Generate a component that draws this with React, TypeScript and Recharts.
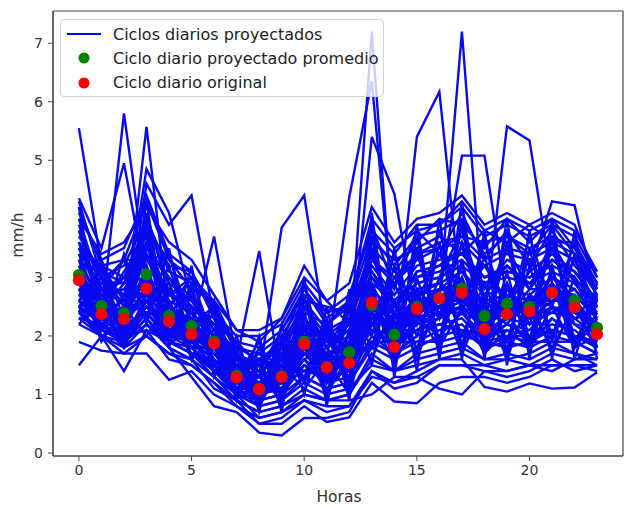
import React from 'react';
import { LineChart, Line, XAxis, YAxis, CartesianGrid } from 'recharts';

// hours of the day
const HOURS = [0, 1, 2, 3, 4, 5, 6, 7, 8, 9, 10, 11, 12, 13, 14, 15, 16, 17, 18, 19, 20, 21, 22, 23];

// projected daily cycles (mm/h)
const PROJ_01 = [5.55, 3.2, 2.6, 3.0, 2.4, 2.2, 1.9, 1.3, 1.1, 1.4, 1.9, 1.5, 1.6, 2.5, 2.0, 2.5, 2.7, 2.8, 2.3, 2.5, 2.4, 2.8, 2.6, 2.1];
const PROJ_02 = [3.0, 2.3, 5.8, 3.0, 2.5, 2.1, 1.8, 1.2, 1.0, 1.2, 1.8, 1.4, 1.7, 2.6, 1.9, 2.4, 2.6, 2.9, 2.2, 2.6, 2.5, 2.7, 2.4, 2.2];
const PROJ_03 = [2.8, 2.6, 2.2, 5.57, 2.3, 2.0, 1.9, 1.4, 1.2, 1.3, 2.0, 1.6, 1.5, 2.4, 2.1, 2.6, 2.5, 2.7, 2.0, 2.3, 2.6, 2.9, 2.5, 2.0];
const PROJ_04 = [4.35, 3.5, 4.95, 2.9, 2.4, 2.3, 1.7, 1.3, 0.9, 1.4, 2.1, 1.3, 1.9, 2.8, 1.8, 2.7, 2.9, 2.6, 2.4, 2.4, 2.3, 2.6, 2.8, 2.3];
const PROJ_05 = [3.3, 2.1, 2.4, 4.85, 4.1, 2.6, 2.0, 1.1, 1.3, 1.1, 1.7, 1.7, 1.4, 2.2, 2.3, 2.3, 2.8, 3.1, 2.5, 2.2, 2.7, 2.5, 2.3, 2.4];
const PROJ_06 = [2.6, 2.4, 2.0, 4.6, 3.9, 4.4, 2.3, 1.5, 1.0, 1.5, 2.2, 1.2, 1.8, 2.7, 1.7, 2.8, 2.4, 2.5, 2.1, 2.8, 2.2, 2.4, 2.7, 1.9];
const PROJ_07 = [2.5, 2.7, 2.3, 3.4, 2.2, 2.1, 3.7, 1.6, 3.45, 1.2, 1.6, 1.8, 1.3, 2.3, 2.5, 2.2, 2.3, 2.9, 2.6, 2.3, 2.8, 2.8, 2.3, 2.5];
const PROJ_08 = [3.1, 2.2, 2.5, 2.8, 2.6, 1.9, 1.6, 1.2, 1.3, 3.85, 4.4, 1.9, 1.6, 2.9, 2.1, 2.4, 2.7, 2.6, 2.3, 2.7, 2.5, 3.0, 2.6, 2.2];
const PROJ_09 = [2.9, 2.5, 2.3, 3.1, 2.3, 2.2, 1.9, 1.4, 1.0, 1.3, 1.9, 1.4, 1.7, 7.2, 2.0, 2.6, 2.6, 2.8, 2.2, 2.5, 2.4, 2.7, 2.5, 2.0];
const PROJ_10 = [3.0, 2.3, 2.5, 2.9, 2.4, 2.0, 1.8, 1.3, 1.1, 1.2, 1.8, 1.6, 4.37, 6.35, 2.2, 2.5, 2.8, 2.7, 2.4, 2.4, 2.6, 2.6, 2.6, 2.1];
const PROJ_11 = [2.7, 2.6, 2.2, 3.2, 2.1, 2.3, 2.0, 1.2, 1.2, 1.4, 2.0, 1.5, 1.6, 5.4, 4.43, 2.3, 2.5, 3.0, 2.1, 2.6, 2.3, 2.8, 2.4, 2.2];
const PROJ_12 = [3.2, 2.4, 2.6, 3.0, 2.5, 2.1, 1.7, 1.4, 1.0, 1.3, 1.9, 1.3, 1.8, 2.6, 1.9, 5.4, 6.17, 2.5, 2.3, 2.5, 2.5, 2.7, 2.7, 2.3];
const PROJ_13 = [2.9, 2.5, 2.2, 2.7, 2.3, 2.2, 1.8, 1.3, 1.1, 1.3, 1.8, 1.5, 1.5, 2.5, 2.0, 2.5, 2.6, 7.2, 2.2, 2.4, 2.4, 2.8, 2.5, 2.0];
const PROJ_14 = [3.0, 2.6, 2.4, 3.0, 2.2, 2.0, 1.9, 1.4, 1.2, 1.4, 2.0, 1.4, 1.7, 2.7, 2.2, 2.6, 2.7, 5.08, 5.08, 2.6, 2.3, 2.6, 2.6, 2.1];
const PROJ_15 = [2.8, 2.3, 2.3, 2.8, 2.4, 2.1, 1.8, 1.3, 1.0, 1.2, 1.9, 1.6, 1.6, 2.4, 2.1, 2.4, 2.5, 2.8, 2.3, 5.58, 5.34, 2.9, 2.5, 2.2];
const PROJ_16 = [2.9, 2.5, 2.4, 3.0, 2.5, 2.2, 1.9, 1.3, 1.1, 1.3, 1.8, 1.5, 1.7, 2.6, 2.0, 2.5, 2.7, 2.7, 2.4, 2.5, 3.1, 4.3, 4.23, 2.6];
const PROJ_17 = [1.5, 2.0, 1.4, 2.1, 1.6, 1.5, 1.2, 0.9, 0.7, 0.8, 1.0, 0.9, 1.0, 1.6, 1.4, 1.6, 1.7, 1.8, 1.6, 1.7, 1.6, 1.8, 1.7, 1.5];
const PROJ_18 = [1.9, 1.75, 1.7, 1.7, 1.25, 1.4, 1.0, 0.8, 0.5, 0.6, 0.9, 0.8, 0.8, 1.3, 1.2, 1.4, 1.6, 1.7, 1.5, 1.6, 1.5, 1.7, 1.6, 1.6];
const PROJ_19 = [2.4, 2.1, 1.9, 2.3, 1.8, 1.3, 0.8, 0.7, 0.35, 0.3, 0.6, 0.6, 0.7, 1.4, 1.1, 1.2, 1.5, 1.5, 1.4, 1.3, 1.4, 1.6, 1.4, 1.5];
const PROJ_20 = [2.2, 2.0, 1.8, 2.0, 1.7, 1.6, 1.1, 0.9, 0.5, 0.5, 0.8, 0.53, 0.61, 1.2, 0.88, 0.85, 1.2, 1.3, 1.3, 1.2, 1.3, 1.5, 1.5, 1.4];
const PROJ_21 = [2.3, 2.2, 1.9, 2.2, 1.9, 1.7, 1.3, 1.0, 0.6, 0.7, 1.0, 0.9, 0.9, 1.0, 1.3, 1.3, 1.1, 1.0, 1.4, 1.4, 1.5, 1.4, 1.6, 1.7];
const PROJ_22 = [2.5, 2.3, 2.0, 2.4, 1.9, 1.8, 1.4, 1.1, 0.8, 0.9, 1.2, 1.0, 1.1, 1.5, 1.4, 1.5, 1.6, 1.6, 1.13, 1.05, 1.19, 1.1, 1.12, 1.38];
const PROJ_23 = [4.1, 3.3, 3.5, 4.4, 3.4, 3.1, 2.4, 2.0, 2.0, 2.2, 2.9, 2.4, 2.7, 3.8, 3.4, 3.9, 3.9, 4.2, 3.7, 3.9, 3.7, 3.9, 3.7, 3.0];
const PROJ_24 = [3.8, 3.0, 3.2, 4.0, 3.1, 2.9, 2.5, 1.8, 1.7, 2.0, 2.6, 2.5, 2.4, 3.5, 3.1, 3.6, 4.0, 3.9, 3.5, 4.0, 3.6, 4.0, 3.5, 2.8];
const PROJ_25 = [3.5, 2.8, 3.0, 3.6, 2.9, 2.6, 2.2, 1.9, 1.5, 1.8, 2.4, 2.2, 2.5, 3.3, 2.9, 3.3, 3.5, 3.6, 3.2, 3.4, 3.3, 3.5, 3.3, 2.7];
const PROJ_26 = [3.3, 2.9, 2.7, 3.4, 2.7, 2.5, 2.1, 1.6, 1.4, 1.7, 2.2, 1.9, 2.1, 3.0, 2.6, 3.0, 3.1, 3.3, 2.9, 3.1, 3.0, 3.2, 3.0, 2.5];
const PROJ_27 = [2.6, 2.2, 2.0, 2.5, 2.0, 1.8, 1.5, 1.1, 0.9, 1.0, 1.5, 1.2, 1.3, 2.0, 1.7, 2.0, 2.2, 2.3, 1.9, 2.0, 2.0, 2.2, 2.1, 1.8];
const PROJ_28 = [2.4, 2.0, 1.9, 2.3, 1.9, 1.7, 1.4, 1.0, 0.8, 0.9, 1.3, 1.1, 1.2, 1.8, 1.6, 1.8, 2.0, 2.1, 1.8, 1.9, 1.8, 2.0, 1.9, 1.7];
const PROJ_29 = [3.6, 3.1, 2.9, 3.8, 3.3, 2.8, 2.6, 2.1, 1.9, 2.3, 3.0, 2.6, 2.2, 3.6, 3.3, 3.5, 3.7, 3.4, 3.8, 3.6, 3.9, 3.6, 3.6, 2.9];
const PROJ_30 = [2.7, 2.4, 2.6, 2.6, 2.6, 2.4, 2.0, 1.5, 1.6, 1.6, 2.1, 1.8, 2.0, 2.8, 2.4, 2.8, 2.9, 3.1, 2.7, 2.8, 2.7, 3.0, 2.8, 2.3];
const PROJ_31 = [4.2, 2.1, 3.4, 2.2, 3.5, 1.6, 2.6, 0.9, 2.0, 0.7, 3.0, 0.8, 2.8, 1.5, 3.5, 1.4, 4.0, 1.6, 3.8, 1.5, 3.8, 1.6, 3.8, 1.6];
const PROJ_32 = [2.4, 3.3, 1.8, 4.3, 1.8, 3.2, 1.3, 2.0, 0.7, 2.2, 1.0, 2.5, 0.9, 4.1, 1.3, 3.9, 1.6, 4.3, 1.6, 4.0, 1.6, 4.0, 1.6, 2.9];
const PROJ_33 = [3.9, 2.8, 2.1, 3.9, 2.0, 2.9, 1.5, 1.8, 0.8, 1.9, 1.2, 2.2, 1.1, 3.7, 1.6, 3.5, 1.9, 3.9, 1.8, 3.6, 1.9, 3.7, 1.9, 2.6];
const PROJ_34 = [2.6, 2.9, 3.3, 2.3, 3.2, 1.9, 2.4, 1.0, 1.8, 0.9, 2.7, 1.0, 2.5, 1.8, 3.2, 1.7, 3.6, 1.8, 3.4, 1.7, 3.5, 1.9, 3.4, 1.8];
const PROJ_35 = [3.7, 3.1, 2.5, 4.1, 2.7, 3.0, 2.5, 1.7, 1.4, 2.1, 2.8, 2.3, 2.6, 3.9, 2.8, 3.8, 3.4, 4.1, 3.3, 3.8, 3.2, 3.8, 3.2, 2.8];
const PROJ_36 = [3.4, 2.4, 2.9, 3.5, 3.0, 2.4, 2.0, 1.4, 1.2, 1.5, 2.3, 1.6, 2.0, 3.1, 2.5, 3.1, 3.2, 3.5, 2.8, 3.3, 3.1, 3.4, 3.1, 2.6];
const PROJ_37 = [2.5, 2.2, 1.8, 2.2, 1.8, 1.6, 1.3, 0.9, 0.7, 0.8, 1.1, 0.9, 1.0, 1.7, 1.4, 1.7, 1.8, 1.9, 1.6, 1.6, 1.7, 1.9, 1.7, 1.6];
const PROJ_38 = [4.0, 3.4, 3.6, 4.2, 3.6, 3.3, 2.7, 2.1, 2.1, 2.3, 3.2, 2.6, 2.9, 4.2, 3.6, 4.0, 4.1, 4.4, 3.9, 4.1, 3.9, 4.1, 3.9, 3.0];
const PROJ_39 = [2.9, 2.6, 2.1, 2.9, 2.3, 2.3, 1.6, 1.3, 1.2, 1.1, 1.7, 1.3, 1.4, 2.3, 2.2, 2.2, 2.4, 2.4, 2.0, 2.2, 2.1, 2.5, 2.2, 1.9];
const PROJ_40 = [3.2, 2.7, 2.8, 3.3, 2.8, 2.3, 2.2, 1.7, 1.5, 1.9, 2.5, 2.0, 2.3, 3.2, 2.7, 3.2, 3.3, 3.4, 3.0, 3.2, 2.9, 3.3, 3.1, 2.6];
const PROJ_41 = [2.3, 2.0, 1.7, 2.0, 1.7, 1.5, 1.2, 0.8, 0.6, 0.7, 0.9, 0.7, 0.8, 1.4, 1.2, 1.3, 1.5, 1.5, 1.5, 1.4, 1.5, 1.5, 1.5, 1.5];
const PROJ_42 = [3.6, 2.5, 3.1, 3.7, 2.4, 2.7, 1.8, 1.5, 1.3, 1.5, 2.0, 2.0, 1.8, 3.4, 2.3, 2.9, 3.0, 3.8, 2.6, 3.5, 2.8, 3.6, 2.9, 2.4];
const PROJ_43 = [2.7, 3.0, 2.2, 3.6, 2.1, 2.0, 1.7, 1.2, 0.9, 1.6, 1.4, 1.7, 1.3, 2.6, 1.9, 2.7, 2.3, 3.2, 2.1, 2.9, 2.2, 3.1, 2.2, 2.1];
const PROJ_44 = [4.3, 3.0, 2.7, 4.0, 2.9, 2.7, 2.1, 1.6, 1.5, 1.6, 2.6, 1.8, 2.2, 3.3, 3.0, 3.4, 3.6, 3.7, 3.6, 3.7, 3.4, 3.9, 3.4, 2.8];
const PROJ_45 = [3.0, 2.3, 2.0, 2.6, 2.2, 1.9, 1.5, 1.2, 1.0, 1.1, 1.6, 1.1, 1.5, 2.1, 1.8, 2.1, 2.3, 2.5, 1.7, 2.1, 1.8, 2.3, 2.0, 1.9];
const PROJ_46 = [2.8, 2.1, 2.4, 2.5, 2.3, 1.7, 1.6, 1.0, 1.1, 1.2, 1.4, 1.3, 1.6, 1.9, 1.9, 1.9, 2.1, 2.2, 1.8, 2.0, 1.9, 2.1, 2.0, 1.8];
const PROJ_47 = [3.5, 3.2, 3.0, 3.9, 3.2, 3.1, 2.3, 1.9, 1.8, 2.1, 2.7, 2.4, 2.5, 3.7, 3.2, 3.7, 3.8, 4.0, 3.4, 3.7, 3.5, 3.7, 3.5, 2.9];
const PROJ_48 = [2.5, 2.8, 2.6, 2.4, 2.5, 2.2, 1.8, 1.4, 1.3, 1.4, 2.0, 1.5, 1.9, 2.5, 2.3, 2.5, 2.6, 2.6, 2.5, 2.5, 2.4, 2.7, 2.4, 2.2];
const PROJ_49 = [3.1, 2.0, 2.2, 3.2, 1.9, 2.5, 1.4, 1.6, 0.9, 1.7, 1.3, 2.1, 1.1, 2.9, 1.5, 3.0, 1.8, 3.3, 1.7, 3.1, 1.7, 3.2, 1.8, 2.4];
const PROJ_50 = [2.6, 3.2, 1.9, 2.7, 2.8, 1.8, 2.1, 1.1, 1.5, 1.0, 2.4, 1.2, 2.3, 2.2, 2.9, 2.0, 3.0, 2.0, 2.9, 1.9, 3.2, 2.0, 3.0, 2.0];
const PROJ_51 = [3.8, 2.6, 3.0, 2.6, 2.9, 2.0, 2.2, 1.3, 1.9, 1.0, 2.9, 1.4, 2.6, 2.0, 3.4, 2.2, 3.8, 2.4, 3.6, 2.3, 3.7, 2.5, 3.6, 2.2];
const PROJ_52 = [2.5, 3.0, 2.0, 4.0, 2.0, 2.8, 1.5, 1.9, 1.0, 2.0, 1.2, 2.3, 1.0, 3.9, 1.5, 3.7, 1.8, 4.0, 1.9, 3.8, 1.8, 3.9, 1.8, 2.7];
const PROJ_53 = [4.0, 2.8, 3.3, 3.3, 3.4, 2.2, 2.5, 1.4, 1.7, 1.3, 2.5, 1.8, 2.4, 2.4, 3.0, 2.6, 3.4, 2.7, 3.2, 2.6, 3.3, 2.7, 3.3, 2.5];
const PROJ_54 = [3.3, 3.3, 2.3, 3.8, 2.5, 3.0, 1.9, 1.7, 1.3, 1.8, 1.8, 2.2, 1.7, 3.5, 2.0, 3.4, 2.3, 3.6, 2.3, 3.5, 2.4, 3.5, 2.4, 2.6];
const PROJ_55 = [2.8, 2.9, 2.9, 3.0, 2.7, 2.6, 2.1, 1.6, 1.5, 1.6, 2.3, 1.9, 2.1, 2.9, 2.6, 2.9, 3.0, 3.2, 2.9, 3.0, 2.9, 3.1, 2.9, 2.5];
const PROJ_56 = [3.6, 2.7, 2.6, 3.6, 2.6, 2.4, 2.0, 1.5, 1.3, 1.5, 2.2, 1.7, 1.9, 3.0, 2.4, 3.1, 3.2, 3.5, 2.7, 3.2, 2.8, 3.3, 3.0, 2.5];
const PROJ_57 = [2.4, 2.4, 2.1, 2.5, 2.1, 1.9, 1.6, 1.2, 1.0, 1.1, 1.6, 1.3, 1.4, 2.2, 1.8, 2.2, 2.3, 2.5, 2.1, 2.3, 2.2, 2.4, 2.3, 2.0];
const PROJ_58 = [4.2, 3.2, 3.3, 4.3, 3.3, 3.0, 2.6, 1.8, 1.6, 1.9, 2.8, 2.2, 2.6, 4.0, 3.5, 3.8, 3.9, 4.3, 3.8, 4.0, 3.8, 4.0, 3.8, 3.1];
const PROJ_59 = [2.9, 2.1, 2.7, 2.7, 2.0, 2.2, 1.7, 1.3, 1.4, 1.2, 2.1, 1.4, 2.0, 2.7, 2.1, 2.6, 2.5, 2.9, 2.3, 2.6, 2.4, 2.7, 2.6, 2.1];
const PROJ_60 = [3.4, 3.0, 2.5, 3.5, 3.0, 2.5, 2.3, 1.6, 1.6, 1.8, 2.6, 2.1, 2.3, 3.3, 2.9, 3.4, 3.5, 3.7, 3.3, 3.5, 3.4, 3.6, 3.4, 2.7];
const PROJ_61 = [2.2, 2.6, 1.8, 2.6, 2.0, 2.0, 1.4, 1.5, 0.8, 1.5, 1.1, 1.6, 1.0, 2.4, 1.5, 2.4, 1.8, 2.5, 1.7, 2.4, 1.8, 2.5, 1.8, 2.0];
const PROJ_62 = [3.0, 1.9, 2.5, 2.0, 2.6, 1.6, 2.0, 0.9, 1.6, 0.8, 2.2, 0.9, 2.1, 1.6, 2.6, 1.6, 2.7, 1.7, 2.6, 1.6, 2.7, 1.7, 2.6, 1.7];
const PROJ_63 = [2.6, 2.3, 2.2, 2.4, 2.0, 1.9, 1.7, 1.3, 1.1, 1.2, 1.7, 1.4, 1.6, 2.1, 2.0, 2.1, 2.2, 2.1, 2.0, 2.1, 2.0, 2.1, 2.0, 1.9];
const PROJ_64 = [3.3, 2.5, 2.4, 3.1, 2.2, 2.1, 1.7, 1.4, 1.2, 1.3, 1.9, 1.5, 1.7, 2.5, 2.1, 2.3, 2.4, 2.6, 2.2, 2.4, 2.3, 2.5, 2.4, 2.1];
const PROJ_65 = [2.4, 2.1, 2.0, 2.1, 1.9, 1.7, 1.5, 1.0, 0.9, 1.0, 1.3, 1.1, 1.2, 1.9, 1.7, 1.9, 1.9, 2.0, 1.9, 1.8, 1.9, 1.9, 1.9, 1.7];
const PROJ_66 = [2.9, 2.7, 2.3, 2.8, 2.4, 2.2, 1.8, 1.5, 1.2, 1.5, 2.0, 1.7, 1.8, 2.6, 2.2, 2.7, 2.8, 2.9, 2.6, 2.7, 2.6, 2.8, 2.7, 2.3];
const PROJ_67 = [2.5, 2.0, 2.2, 2.8, 2.1, 2.4, 1.5, 1.7, 0.9, 1.8, 1.2, 2.0, 1.2, 2.7, 1.6, 2.8, 1.9, 3.0, 1.8, 2.9, 1.8, 2.9, 1.8, 2.3];
const PROJ_68 = [2.7, 2.5, 1.9, 2.4, 2.3, 1.8, 1.8, 1.1, 1.3, 0.9, 1.8, 1.0, 1.7, 1.8, 2.4, 1.8, 2.5, 1.9, 2.4, 1.8, 2.5, 1.8, 2.5, 1.8];
const PROJ_69 = [3.5, 2.6, 2.8, 3.3, 2.8, 2.6, 2.2, 1.7, 1.4, 1.6, 2.3, 1.8, 2.1, 3.1, 2.6, 3.0, 3.2, 3.4, 3.0, 3.1, 3.0, 3.3, 3.1, 2.6];
const PROJ_70 = [2.3, 2.4, 2.0, 2.6, 1.9, 2.0, 1.4, 1.3, 1.0, 1.2, 1.5, 1.3, 1.4, 2.2, 1.8, 2.3, 2.0, 2.4, 1.9, 2.2, 2.0, 2.3, 2.0, 1.9];

const PROJECTED = [
    PROJ_01, PROJ_02, PROJ_03, PROJ_04, PROJ_05, PROJ_06, PROJ_07, PROJ_08, PROJ_09, PROJ_10,
    PROJ_11, PROJ_12, PROJ_13, PROJ_14, PROJ_15, PROJ_16, PROJ_17, PROJ_18, PROJ_19, PROJ_20,
    PROJ_21, PROJ_22, PROJ_23, PROJ_24, PROJ_25, PROJ_26, PROJ_27, PROJ_28, PROJ_29, PROJ_30,
    PROJ_31, PROJ_32, PROJ_33, PROJ_34, PROJ_35, PROJ_36, PROJ_37, PROJ_38, PROJ_39, PROJ_40,
    PROJ_41, PROJ_42, PROJ_43, PROJ_44, PROJ_45, PROJ_46, PROJ_47, PROJ_48, PROJ_49, PROJ_50,
    PROJ_51, PROJ_52, PROJ_53, PROJ_54, PROJ_55, PROJ_56, PROJ_57, PROJ_58, PROJ_59, PROJ_60,
    PROJ_61, PROJ_62, PROJ_63, PROJ_64, PROJ_65, PROJ_66, PROJ_67, PROJ_68, PROJ_69, PROJ_70,
];

// mean of the projected cycles and the original cycle
const AVG_PROJECTED = [3.04, 2.51, 2.39, 3.05, 2.34, 2.17, 1.9, 1.32, 1.1, 1.31, 1.9, 1.47, 1.72, 2.53, 2.02, 2.5, 2.65, 2.81, 2.34, 2.55, 2.5, 2.74, 2.61, 2.14];
const ORIGINAL = [2.95, 2.37, 2.29, 2.81, 2.25, 2.03, 1.87, 1.29, 1.09, 1.3, 1.86, 1.46, 1.54, 2.57, 1.81, 2.46, 2.64, 2.74, 2.12, 2.37, 2.42, 2.74, 2.49, 2.03];

const X_TICKS = [0, 5, 10, 15, 20];
const Y_TICKS = [0, 1, 2, 3, 4, 5, 6, 7];

const LEGEND_ITEMS = [
    { label: 'Ciclos diarios proyectados', color: '#0000ff', kind: 'line' },
    { label: 'Ciclo diario proyectado promedio', color: '#008000', kind: 'dot' },
    { label: 'Ciclo diario original', color: '#ff0000', kind: 'dot' },
];

const FONT = '"DejaVu Sans", sans-serif';
const AXIS_COLOR = '#444';
const BLUE = '#0a0aee';

const data = HOURS.map((h, i) => {
    const row: Record<string, number> = { hour: h, avg: AVG_PROJECTED[i], orig: ORIGINAL[i] };
    PROJECTED.forEach((s, k) => {
        row[`p${k}`] = s[i];
    });
    return row;
});

const LegendBox = () => (
    <div
        style={{
            position: 'absolute',
            left: 60,
            top: 19,
            width: 324,
            height: 78,
            border: '1px solid #d4d4d4',
            borderRadius: 4,
            background: 'rgba(255,255,255,0.8)',
            fontFamily: FONT,
            fontSize: 16,
            color: '#222',
            paddingTop: 2,
            boxSizing: 'border-box',
        }}
    >
        {LEGEND_ITEMS.map((it) => (
            <div key={it.label} style={{ display: 'flex', alignItems: 'center', height: 24.3 }}>
                <svg width={52} height={14} style={{ flex: 'none' }}>
                    {it.kind === 'line' ? (
                        <line x1={6} y1={7} x2={40} y2={7} stroke={it.color} strokeWidth={2} />
                    ) : (
                        <circle cx={23} cy={7} r={5.5} fill={it.color} />
                    )}
                </svg>
                <span style={{ whiteSpace: 'nowrap' }}>{it.label}</span>
            </div>
        ))}
    </div>
);

// draws the box around the plot area (matplotlib-style frame)
const frameH = ({ offset }: any) => [offset.top, offset.top + offset.height];
const frameV = ({ offset }: any) => [offset.left, offset.left + offset.width];

export default function App() {
    return (
        <div style={{ position: 'absolute', left: 0, top: 0, width: 624, height: 506, background: '#fff' }}>
            <LineChart
                width={624}
                height={506}
                data={data}
                margin={{ top: 11, right: 1, bottom: 0, left: 13 }}
            >
                <CartesianGrid
                    stroke={AXIS_COLOR}
                    strokeWidth={1.2}
                    horizontalCoordinatesGenerator={frameH}
                    verticalCoordinatesGenerator={frameV}
                />
                <XAxis
                    dataKey="hour"
                    type="number"
                    domain={[-1.15, 24.15]}
                    ticks={X_TICKS}
                    allowDataOverflow
                    height={50}
                    stroke={AXIS_COLOR}
                    tickSize={5}
                    tickMargin={4}
                    tick={{ fill: '#333', fontSize: 14, fontFamily: FONT }}
                />
                <YAxis
                    type="number"
                    domain={[-0.05, 7.55]}
                    ticks={Y_TICKS}
                    allowDataOverflow
                    width={40}
                    stroke={AXIS_COLOR}
                    tickSize={5}
                    tickMargin={5}
                    tick={{ fill: '#333', fontSize: 14, fontFamily: FONT }}
                />

                {PROJECTED.map((_, k) => (
                    <Line
                        key={k}
                        dataKey={`p${k}`}
                        stroke={BLUE}
                        strokeWidth={2.4}
                        dot={false}
                        activeDot={false}
                        type="linear"
                        isAnimationActive={false}
                    />
                ))}

                <Line
                    dataKey="avg"
                    stroke="none"
                    dot={{ r: 6, fill: '#008000', stroke: 'none' }}
                    activeDot={false}
                    isAnimationActive={false}
                />
                <Line
                    dataKey="orig"
                    stroke="none"
                    dot={{ r: 6, fill: '#ff0000', stroke: 'none' }}
                    activeDot={false}
                    isAnimationActive={false}
                />
            </LineChart>
            <LegendBox />
            <div
                style={{
                    position: 'absolute',
                    left: 339,
                    top: 497,
                    transform: 'translate(-50%, -50%)',
                    fontFamily: FONT,
                    fontSize: 15.5,
                    color: '#333',
                    whiteSpace: 'nowrap',
                }}
            >
                Horas
            </div>
            <div
                style={{
                    position: 'absolute',
                    left: 18,
                    top: 235,
                    transform: 'translate(-50%, -50%) rotate(-90deg)',
                    fontFamily: FONT,
                    fontSize: 15.5,
                    color: '#333',
                    whiteSpace: 'nowrap',
                }}
            >
                mm/h
            </div>
        </div>
    );
}
